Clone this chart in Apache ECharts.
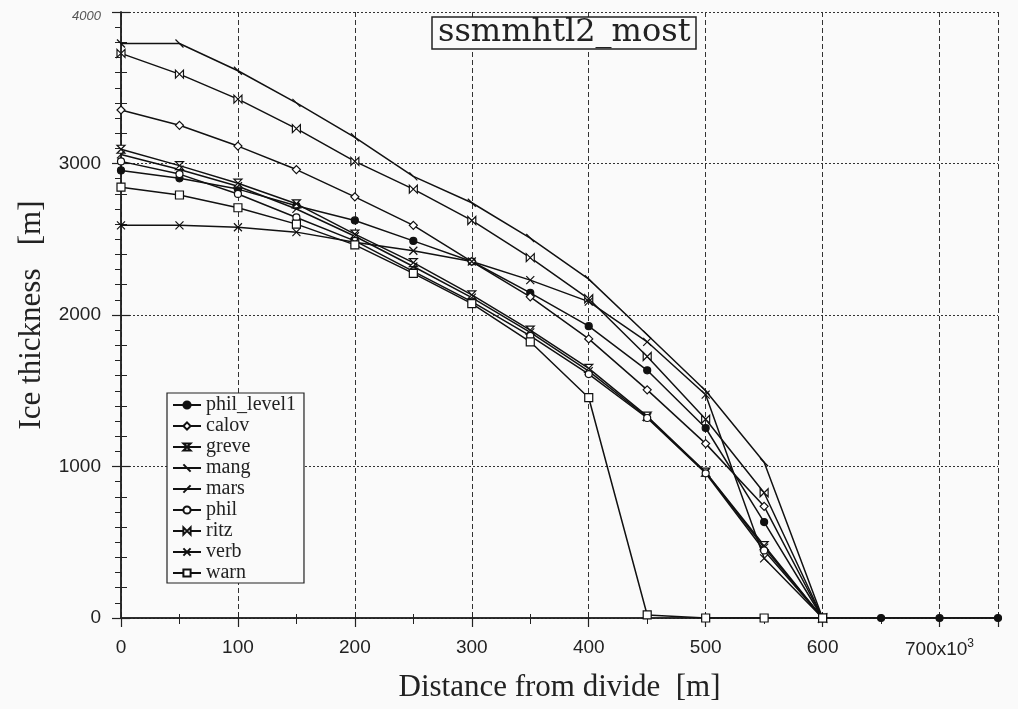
<!DOCTYPE html>
<html>
<head>
<meta charset="utf-8">
<script src="https://cdn.jsdelivr.net/npm/echarts@6/dist/echarts.min.js"></script>
<style>
html,body{margin:0;padding:0;background:#fafafa;}
#chart{width:1018px;height:709px;}
</style>
</head>
<body>
<div id="chart"></div>
<script>
// Distance from divide (km) at which the models report values
const distances = [0, 50, 100, 150, 200, 250, 300, 350, 400, 450, 500, 550, 600];
const distancesLong = [0, 50, 100, 150, 200, 250, 300, 350, 400, 450, 500, 550, 600, 650, 700, 750];

// Ice thickness (m) per model
const phil_level1 = [2954, 2902, 2831, 2721, 2624, 2489, 2353, 2146, 1926, 1635, 1254, 633, 0, 0, 0, 0];
const calov = [3353, 3252, 3115, 2960, 2780, 2592, 2353, 2120, 1842, 1506, 1151, 737, 0];
const greve = [3094, 2986, 2870, 2734, 2534, 2346, 2133, 1900, 1648, 1332, 963, 478, 0];
const mang  = [3792, 3792, 3612, 3400, 3173, 2915, 2741, 2508, 2237, 1870, 1500, 1028, 0];
const mars  = [3060, 2960, 2850, 2700, 2520, 2320, 2115, 1885, 1630, 1325, 960, 465, 0];
const phil  = [3014, 2930, 2799, 2644, 2489, 2288, 2088, 1862, 1610, 1320, 955, 446, 0];
const ritz  = [3727, 3590, 3425, 3230, 3014, 2831, 2624, 2379, 2107, 1726, 1312, 827, 0];
const verb  = [2592, 2592, 2579, 2547, 2480, 2424, 2353, 2230, 2088, 1823, 1474, 394, 0];
const warn  = [2844, 2792, 2708, 2600, 2463, 2275, 2075, 1823, 1454, 20, 0, 0, 0];

const seriesNames = ['phil_level1', 'calov', 'greve', 'mang', 'mars', 'phil', 'ritz', 'verb', 'warn'];
const xTickLabels = ['0', '100', '200', '300', '400', '500', '600', '700x10{sup|3}'];
const yTickLabels = ['0', '1000', '2000', '3000', '{it|4000}'];

const seriesValues = [phil_level1, calov, greve, mang, mars, phil, ritz, verb, warn];

const symbols = {
  phil_level1: {symbol: 'circle', fill: '#111', size: 7},
  calov: {symbol: 'path://M5,0L10,5L5,10L0,5Z', fill: '#fff', size: 8},
  greve: {symbol: 'path://M0,0L10,0L0,10L10,10Z', fill: '#fff', size: 8},
  mang: {symbol: 'path://M0,0L10,10', fill: 'none', size: 8},
  mars: {symbol: 'path://M10,0L0,10', fill: 'none', size: 8},
  phil: {symbol: 'circle', fill: '#fff', size: 7},
  ritz: {symbol: 'path://M0,0L0,10L10,0L10,10Z', fill: '#fff', size: 8},
  verb: {symbol: 'path://M0,0L10,10M10,0L0,10', fill: 'none', size: 8},
  warn: {symbol: 'rect', fill: '#fff', size: 8}
};

const series = seriesNames.map(function (name, i) {
  const vals = seriesValues[i];
  const xs = vals.length === distancesLong.length ? distancesLong : distances;
  const s = symbols[name];
  return {
    name: name,
    type: 'line',
    data: vals.map(function (v, j) { return [xs[j], v]; }),
    symbol: s.symbol,
    symbolSize: s.size,
    showAllSymbol: true,
    lineStyle: {color: '#111', width: 1.5},
    itemStyle: {color: s.fill === 'none' ? 'rgba(0,0,0,0)' : s.fill, borderColor: '#111', borderWidth: 1.2},
    emphasis: {disabled: true},
    animation: false,
    z: 3
  };
});

const chart = echarts.init(document.getElementById('chart'));
const serif = 'Liberation Serif';
const tickFont = 'Liberation Sans';

chart.setOption({
  backgroundColor: '#fafafa',
  animation: false,
  title: {
    text: 'ssmmhtl2_most',
    left: 432,
    top: 17,
    padding: [0, 6, 0, 6],
    borderColor: '#222',
    borderWidth: 1.5,
    backgroundColor: '#fafafa',
    textStyle: {fontFamily: 'DejaVu Serif', fontSize: 32, fontWeight: 'normal', color: '#222'}
  },
  legend: {
    orient: 'vertical',
    left: 167,
    top: 393,
    data: seriesNames,
    itemWidth: 28,
    itemHeight: 9,
    itemGap: 1,
    padding: [2, 8, 0, 5],
    borderColor: '#222',
    borderWidth: 1.2,
    backgroundColor: '#fafafa',
    textStyle: {fontFamily: serif, fontSize: 20, color: '#222'},
    inactiveColor: '#111'
  },
  grid: {left: 121, right: 20, top: 12, bottom: 91, containLabel: false},
  xAxis: [{
    type: 'value',
    min: 0,
    max: 750,
    interval: 100,
    position: 'bottom',
    name: 'Distance from divide  [m]',
    nameLocation: 'middle',
    nameGap: 54,
    nameTextStyle: {fontFamily: serif, fontSize: 31, color: '#222'},
    axisLine: {show: true, lineStyle: {color: '#222', width: 1.5}},
    axisTick: {show: true, length: 9, lineStyle: {color: '#222', width: 1.2}},
    minorTick: {show: true, splitNumber: 2, length: 6, lineStyle: {color: '#222', width: 1}},
    axisLabel: {
      showMaxLabel: false,
      margin: 20,
      fontFamily: tickFont,
      fontSize: 19,
      color: '#222',
      formatter: function (v) { const k = Math.round(v / 100); return k >= 0 && k < xTickLabels.length && v % 100 === 0 ? xTickLabels[k] : ''; },
      rich: {sup: {fontFamily: tickFont, fontSize: 12, color: '#222', verticalAlign: 'top', padding: [0, 0, 12, 0]}}
    },
    splitLine: {show: true, lineStyle: {color: '#333', width: 1, type: [5, 3]}}
  }, {
    type: 'value',
    min: 0,
    max: 750,
    interval: 100,
    position: 'top',
    axisLine: {show: true, lineStyle: {color: '#222', width: 1.5}},
    axisTick: {show: true, length: 6, lineStyle: {color: '#222', width: 1}},
    minorTick: {show: true, splitNumber: 2, length: 4, lineStyle: {color: '#222'}},
    axisLabel: {show: false},
    splitLine: {show: false}
  }],
  yAxis: [{
    type: 'value',
    min: 0,
    max: 4000,
    interval: 1000,
    position: 'left',
    offset: 6,
    name: 'Ice thickness   [m]',
    nameLocation: 'middle',
    nameGap: 66,
    nameTextStyle: {fontFamily: serif, fontSize: 31, color: '#222'},
    axisLine: {show: true, lineStyle: {color: '#222', width: 1.5}},
    axisTick: {show: true, length: 9, lineStyle: {color: '#222', width: 1.2}},
    minorTick: {show: true, splitNumber: 10, length: 6, lineStyle: {color: '#222', width: 1}},
    axisLabel: {
      margin: 14,
      fontFamily: tickFont,
      fontSize: 19,
      color: '#222',
      formatter: function (v) { const k = Math.round(v / 1000); return yTickLabels[k] || ''; },
      rich: {it: {fontFamily: tickFont, fontSize: 13, fontStyle: 'italic', color: '#555', padding: [8, 0, 0, 0]}}
    },
    splitLine: {show: true, lineStyle: {color: '#333', width: 1, type: [2, 2]}}
  }, {
    type: 'value',
    min: 0,
    max: 4000,
    interval: 1000,
    position: 'right',
    offset: 5,
    axisLine: {show: true, lineStyle: {color: '#222', width: 1.5}},
    axisTick: {show: true, length: 9, lineStyle: {color: '#222', width: 1.2}},
    minorTick: {show: true, splitNumber: 5, length: 6, lineStyle: {color: '#222'}},
    axisLabel: {show: false},
    splitLine: {show: false}
  }],
  series: series
});
</script>
</body>
</html>
